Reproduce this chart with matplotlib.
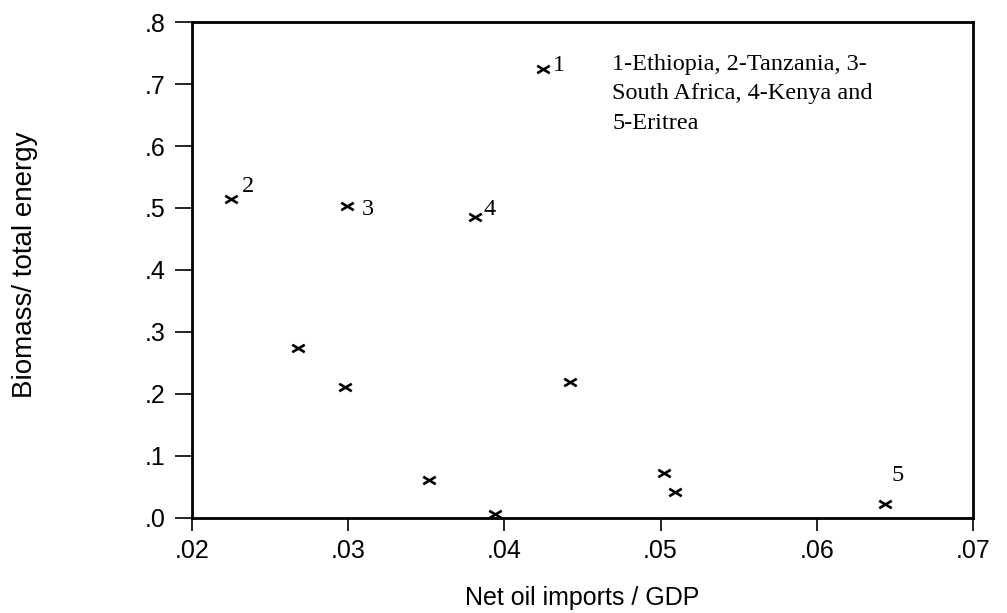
import matplotlib

matplotlib.use("Agg")
import matplotlib.pyplot as plt
from matplotlib.path import Path

# dados
oil_gdp = [0.0425, 0.0225, 0.0299, 0.0381, 0.0644,
           0.0268, 0.0298, 0.0352, 0.0394, 0.0442, 0.0502, 0.0509]
biomass = [0.724, 0.514, 0.503, 0.486, 0.022,
           0.274, 0.211, 0.061, 0.006, 0.219, 0.072, 0.042]
rotulos = ["1", "2", "3", "4", "5"]
desloc = [(7, -1), (7.5, 5), (11, -6.5), (6, 1.5), (4.5, 17)]  # offsets em pontos

nota = "1-Ethiopia, 2-Tanzania, 3-\nSouth Africa, 4-Kenya and\n5-Eritrea"

xticks = [0.02, 0.03, 0.04, 0.05, 0.06, 0.07]
yticks = [0.0, 0.1, 0.2, 0.3, 0.4, 0.5, 0.6, 0.7, 0.8]

SANS = ["Liberation Sans", "DejaVu Sans"]
SERIF = ["Liberation Serif", "DejaVu Serif"]

# marcador "x" achatado
cruz = Path([(-1, -0.6), (1, 0.6), (-1, 0.6), (1, -0.6)],
            [Path.MOVETO, Path.LINETO, Path.MOVETO, Path.LINETO])

fig = plt.figure(figsize=(10.07, 6.13), dpi=100)
ax = fig.add_axes([0.1907, 0.155, 0.7755, 0.8091])

ax.plot(oil_gdp, biomass, linestyle="none", marker=cruz, markersize=9,
        markeredgewidth=1.9, color="black", clip_on=False)

for i, r in enumerate(rotulos):
    ax.annotate(r, (oil_gdp[i], biomass[i]), xytext=desloc[i],
                textcoords="offset points", fontsize=17.5, family=SERIF,
                ha="left", va="baseline")

ax.text(0.0469, 0.749, nota, fontsize=17.5, family=SERIF, va="top", ha="left",
        linespacing=1.55)

ax.set_xlim(0.02, 0.07)
ax.set_ylim(0.0, 0.8)
ax.set_xticks(xticks)
ax.set_yticks(yticks)
ax.set_xticklabels([f"{v:.2f}"[1:] for v in xticks], family=SANS, fontsize=18)
ax.set_yticklabels([f"{v:.1f}"[1:] for v in yticks], family=SANS, fontsize=18)

for s in ax.spines.values():
    s.set_linewidth(2.0)
ax.tick_params(axis="y", direction="out", length=12, width=1.2, pad=7)
ax.tick_params(axis="x", direction="out", length=9, width=1.2, pad=6)

ax.set_xlabel("Net oil imports / GDP", family=SANS, fontsize=18, labelpad=17)
fig.text(25 / 1007, 1 - 265 / 613, "Biomass/ total energy", family=SANS,
         fontsize=20, rotation=90, ha="center", va="center")

fig.savefig("out.png", dpi=100)
